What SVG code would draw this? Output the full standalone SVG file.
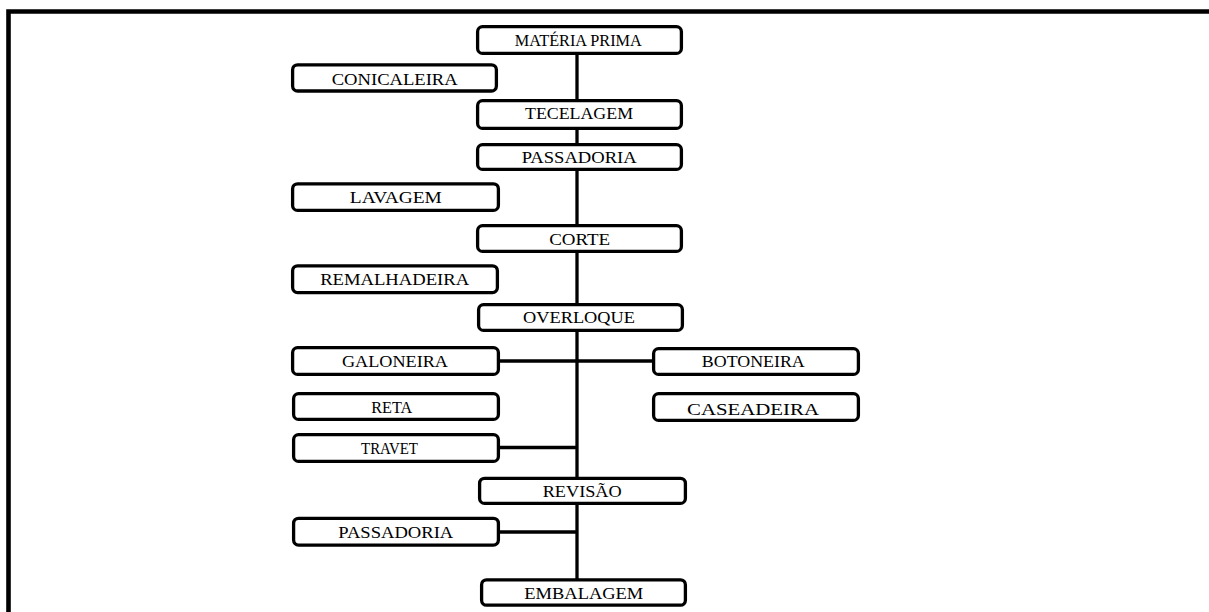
<svg xmlns="http://www.w3.org/2000/svg" width="1209" height="612" viewBox="0 0 1209 612">
  <style>
    .box { fill: #ffffff; stroke: #000000; stroke-width: 3.3; }
    .lbl { font-family: "Liberation Serif", "Times New Roman", serif; font-size: 17.5px; fill: #000000; text-anchor: middle; }
    .wire { stroke: #000000; stroke-width: 3.3; fill: none; }
    .frame { stroke: #000000; stroke-width: 4.6; fill: none; }
  </style>
  <rect width="1209" height="612" fill="#ffffff"/>

  <!-- open frame: top and left edges only -->
  <path class="frame" d="M8.5,612 V11.5 H1209"/>

  <!-- connectors -->
  <g id="connectors">
    <line class="wire" x1="577" y1="55" x2="577" y2="579"/>
    <line class="wire" x1="499" y1="361" x2="653" y2="361"/>
    <line class="wire" x1="499" y1="447.5" x2="577" y2="447.5"/>
    <line class="wire" x1="499" y1="532" x2="577" y2="532"/>
  </g>

  <!-- main line -->
  <g id="materia-prima">
    <rect class="box" x="477.6" y="26.6" width="203.8" height="26.8" rx="5"/>
    <text class="lbl" x="578.3" y="46" textLength="127" lengthAdjust="spacingAndGlyphs">MATÉRIA PRIMA</text>
  </g>
  <g id="tecelagem">
    <rect class="box" x="477.6" y="100.6" width="203.8" height="27.8" rx="5"/>
    <text class="lbl" x="579" y="119.3" textLength="108" lengthAdjust="spacingAndGlyphs">TECELAGEM</text>
  </g>
  <g id="passadoria">
    <rect class="box" x="477.6" y="144.6" width="203.8" height="24.8" rx="5"/>
    <text class="lbl" x="579.2" y="163.3" textLength="115" lengthAdjust="spacingAndGlyphs">PASSADORIA</text>
  </g>
  <g id="corte">
    <rect class="box" x="477.6" y="225.6" width="203.8" height="25.8" rx="5"/>
    <text class="lbl" x="579.7" y="245" textLength="61" lengthAdjust="spacingAndGlyphs">CORTE</text>
  </g>
  <g id="overloque">
    <rect class="box" x="478.6" y="304.6" width="203.8" height="25.8" rx="5"/>
    <text class="lbl" x="579" y="323.3" textLength="112" lengthAdjust="spacingAndGlyphs">OVERLOQUE</text>
  </g>
  <g id="revisao">
    <rect class="box" x="479.6" y="478.3" width="205.8" height="25.1" rx="5"/>
    <text class="lbl" x="582.2" y="497.3" textLength="79" lengthAdjust="spacingAndGlyphs">REVISÃO</text>
  </g>
  <g id="embalagem">
    <rect class="box" x="481.6" y="579.8" width="203.8" height="25.4" rx="5"/>
    <text class="lbl" x="583.8" y="599.3" textLength="119" lengthAdjust="spacingAndGlyphs">EMBALAGEM</text>
  </g>

  <!-- left-hand machines -->
  <g id="conicaleira">
    <rect class="box" x="292.6" y="64.8" width="203.8" height="26.2" rx="5"/>
    <text class="lbl" x="394.7" y="85" textLength="126" lengthAdjust="spacingAndGlyphs">CONICALEIRA</text>
  </g>
  <g id="lavagem">
    <rect class="box" x="292.6" y="183.8" width="205.8" height="26.6" rx="5"/>
    <text class="lbl" x="395.8" y="203.3" textLength="92" lengthAdjust="spacingAndGlyphs">LAVAGEM</text>
  </g>
  <g id="remalhadeira">
    <rect class="box" x="292.6" y="265.8" width="204.8" height="26.8" rx="5"/>
    <text class="lbl" x="394.7" y="285" textLength="149" lengthAdjust="spacingAndGlyphs">REMALHADEIRA</text>
  </g>
  <g id="galoneira">
    <rect class="box" x="292.6" y="347.6" width="205.8" height="26.8" rx="5"/>
    <text class="lbl" x="395" y="366.7" textLength="106" lengthAdjust="spacingAndGlyphs">GALONEIRA</text>
  </g>
  <g id="reta">
    <rect class="box" x="293.6" y="393.6" width="204.8" height="25.8" rx="5"/>
    <text class="lbl" x="391.7" y="413.3" textLength="41" lengthAdjust="spacingAndGlyphs">RETA</text>
  </g>
  <g id="travet">
    <rect class="box" x="293.6" y="434.6" width="204.8" height="26.8" rx="5"/>
    <text class="lbl" x="389.5" y="454.3" textLength="57" lengthAdjust="spacingAndGlyphs">TRAVET</text>
  </g>
  <g id="passadoria-2">
    <rect class="box" x="293.6" y="518.3" width="204.8" height="26.8" rx="5"/>
    <text class="lbl" x="395.8" y="538.3" textLength="115" lengthAdjust="spacingAndGlyphs">PASSADORIA</text>
  </g>

  <!-- right-hand machines -->
  <g id="botoneira">
    <rect class="box" x="653.6" y="348.6" width="204.8" height="25.8" rx="5"/>
    <text class="lbl" x="753.3" y="367.3" textLength="103" lengthAdjust="spacingAndGlyphs">BOTONEIRA</text>
  </g>
  <g id="caseadeira">
    <rect class="box" x="653.6" y="393.6" width="204.8" height="26.8" rx="5"/>
    <text class="lbl" x="753" y="415" font-size="19.5" textLength="132" lengthAdjust="spacingAndGlyphs">CASEADEIRA</text>
  </g>
</svg>
